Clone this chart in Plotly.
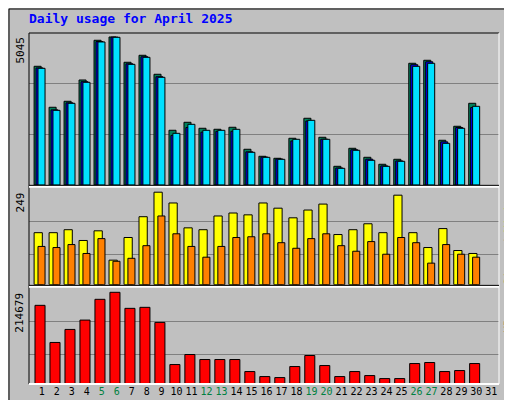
import plotly.graph_objects as go

days = list(range(1, 31))
weekend = [5, 6, 12, 13, 19, 20, 26, 27]

hits = [4046, 2649, 2853, 3579, 4933, 5045, 4183, 4421, 3774, 1865,
        2137, 1933, 1899, 1967, 1217, 978, 910, 1592, 2274, 1626,
        637, 1251, 944, 706, 876, 4149, 4251, 1524, 2001, 2785]
files = [3990, 2560, 2800, 3520, 4890, 5040, 4130, 4370, 3690, 1690,
         1960, 1800, 1830, 1830, 1130, 950, 885, 1500, 2180, 1560,
         580, 1200, 880, 650, 820, 4100, 4200, 1470, 1960, 2640]
pages = [3977, 2545, 2784, 3500, 4875, 5034, 4113, 4352, 3670, 1761,
         2068, 1864, 1864, 1898, 1114, 943, 875, 1557, 2205, 1557,
         568, 1182, 841, 636, 807, 4045, 4148, 1420, 1932, 2682]
visits = [140, 140, 148, 119, 145, 66, 127, 183, 249, 220,
          153, 148, 185, 193, 188, 220, 206, 180, 201, 217,
          135, 148, 164, 140, 241, 140, 100, 151, 92, 84]
sites = [103, 100, 108, 84, 124, 63, 71, 105, 185, 137,
         103, 74, 103, 127, 129, 137, 113, 98, 124, 137,
         105, 90, 116, 82, 127, 113, 58, 108, 82, 74]
kbytes = [184150, 97240, 127780, 149620, 198240, 214679, 177100, 179450, 144220, 45570,
          69060, 57310, 57310, 57310, 29130, 17380, 15030, 40870, 66710, 43220,
          17380, 29130, 19730, 12680, 12680, 47920, 50270, 29130, 31470, 47920]

tick_days = list(range(1, 32))
tick_text = [f"<span style='color:#008040'>{d}</span>" if d in weekend else str(d) for d in tick_days]

BG = "#C0C0C0"
GRID = "#808080"
MONO = "DejaVu Sans Mono"

fig = go.Figure()

def bars(y, color, offset, width, axis):
    fig.add_trace(go.Bar(
        x=days, y=y, marker=dict(color=color, line=dict(color="black", width=1)),
        offset=offset, width=width, yaxis=axis, showlegend=False,
    ))

bars(hits, "#00805C", -0.51, 0.47, "y3")
bars(files, "#0000FF", -0.38, 0.47, "y3")
bars(pages, "#00E0FF", -0.25, 0.47, "y3")
bars(visits, "#FFFF00", -0.51, 0.55, "y2")
bars(sites, "#FF8000", -0.25, 0.47, "y2")
bars(kbytes, "#FF0000", -0.45, 0.67, "y")

def yax(domain, top, grids):
    return dict(domain=domain, range=[0, top], tickvals=grids, showticklabels=False,
                showgrid=True, gridcolor=GRID, gridwidth=1, zeroline=False, ticks="",
                fixedrange=True)

fig.update_layout(
    barmode="overlay",
    width=512, height=400,
    margin=dict(l=21, r=21, t=25, b=24),
    paper_bgcolor=BG, plot_bgcolor=BG,
    font=dict(family=MONO, color="black", size=11),
    xaxis=dict(range=[0.15, 31.51], tickvals=tick_days, ticktext=tick_text, tickangle=0,
               showgrid=False, zeroline=False, ticks="", anchor="y",
               tickfont=dict(family=MONO, size=10)),
    yaxis=yax([0, 0.2715], 223100, [69060, 146570]),
    yaxis2=yax([0.283, 0.557], 259, [82, 171]),
    yaxis3=yax([0.567, 1.0], 5181, [1705, 3443]),
)

# titles and side labels
fig.add_annotation(text="<b>Daily usage for April 2025</b>", xref="paper", yref="paper",
                   x=-0.004, y=1.0, yshift=5, xanchor="left", yanchor="bottom", showarrow=False,
                   font=dict(family=MONO, size=13, color="#0000FF"))
for txt, y in [("5045", 1.0), ("249", 0.557), ("214679", 0.2715)]:
    fig.add_annotation(text=txt, xref="paper", yref="paper", x=0, xshift=-9, y=y, yshift=-2,
                       xanchor="center", yanchor="top", textangle=-90, showarrow=False,
                       font=dict(family=MONO, size=11, color="black"))
side = [
    ("<span style='color:#00E0FF'>Pages</span> / <span style='color:#0000FF'>Files</span>"
     " / <span style='color:#00805C'>Hits</span>", 1.0),
    ("<span style='color:#FF8000'>Sites</span> / <span style='color:#FFFF00'>Visits</span>", 0.557),
    ("<span style='color:#FF0000'>KBytes</span>", 0.2715),
]
for txt, y in side:
    fig.add_annotation(text=txt, xref="paper", yref="paper", x=1, xshift=10, y=y, yshift=-2,
                       xanchor="center", yanchor="top", textangle=-90, showarrow=False,
                       font=dict(family=MONO, size=11, color="#404040"))

# panel frame and separators
fig.add_shape(type="line", xref="paper", yref="paper", x0=0, x1=0, y0=0, y1=1, line=dict(color="black", width=1))
fig.add_shape(type="line", xref="paper", yref="paper", x0=0, x1=1, y0=1, y1=1, line=dict(color="black", width=1))
fig.add_shape(type="line", xref="paper", yref="paper", x0=1, x1=1, y0=0, y1=1, line=dict(color="white", width=1))
fig.add_shape(type="line", xref="paper", yref="paper", x0=0, x1=1, y0=0, y1=0, line=dict(color="white", width=2))
for y in [0.562, 0.277]:
    fig.add_shape(type="line", xref="paper", yref="paper", x0=0, x1=1, y0=y, y1=y, line=dict(color="white", width=2))
    fig.add_shape(type="line", xref="paper", yref="paper", x0=0, x1=1, y0=y + 0.004, y1=y + 0.004, line=dict(color="black", width=1))

# outer border of the image
fig.add_shape(type="rect", xref="paper", yref="paper", x0=-20 / 470, x1=1 + 20 / 470,
              y0=-23 / 351, y1=1 + 24 / 351, line=dict(color="black", width=1))

fig.write_html("out.html")
